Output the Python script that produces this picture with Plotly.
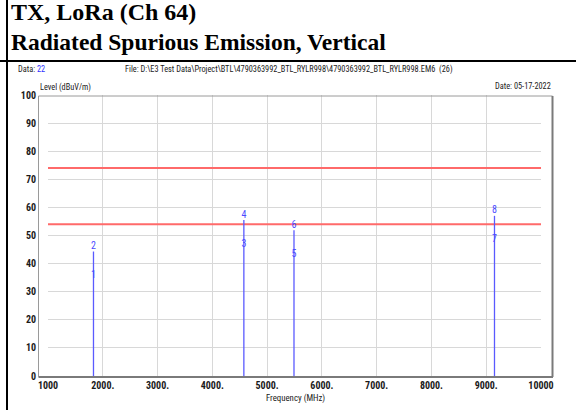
import plotly.graph_objects as go

# Measured emissions (harmonics of the LoRa carrier, channel 64)
freq_mhz = [1830.2, 4575.5, 5490.6, 9151.0]
avg_level = [34.0, 44.9, 41.4, 46.7]      # marker numbers 1, 3, 5, 7
peak_level = [44.3, 55.5, 51.9, 57.0]     # marker numbers 2, 4, 6, 8
avg_marks = ["1", "3", "5", "7"]
peak_marks = ["2", "4", "6", "8"]

# Limit lines (dBuV/m)
limit_peak = 74
limit_avg = 54
freq_span = [1000, 10000]

x_ticks = [1000, 2000, 3000, 4000, 5000, 6000, 7000, 8000, 9000, 10000]
x_tick_text = ["1000", "2000.", "3000.", "4000.", "5000.", "6000.", "7000.", "8000.", "9000.", "10000"]
y_ticks = [0, 10, 20, 30, 40, 50, 60, 70, 80, 90, 100]

W, H = 576, 410
ML, MR, MT, MB = 48, 35, 95, 34
NARROW = "Roboto Condensed, Liberation Sans, Arial, sans-serif"
SERIF = "Liberation Serif, Times New Roman, serif"


def px(x):
    return (x - ML) / (W - ML - MR)


def py(y):
    return (H - MB - y) / (H - MT - MB)


fig = go.Figure()

# limit lines
for lim in (limit_peak, limit_avg):
    fig.add_trace(go.Scatter(
        x=freq_span, y=[lim, lim], mode="lines",
        line=dict(color="#ff6a6a", width=2), hoverinfo="skip", showlegend=False))

# emission spikes from 0 up to the peak level
sx, sy = [], []
for f, p in zip(freq_mhz, peak_level):
    sx += [f, f, None]
    sy += [0, p, None]
fig.add_trace(go.Scatter(x=sx, y=sy, mode="lines",
                         line=dict(color="#5a5aff", width=1.3),
                         hoverinfo="skip", showlegend=False))

# marker numbers
fig.add_trace(go.Scatter(
    x=freq_mhz + freq_mhz, y=avg_level + peak_level,
    text=avg_marks + peak_marks, mode="text", textposition="top center",
    textfont=dict(family=NARROW, size=10, color="#4a4aff"),
    hoverinfo="skip", showlegend=False))

fig.update_xaxes(
    range=freq_span, tickvals=x_ticks, ticktext=x_tick_text,
    showgrid=True, gridcolor="#d8d8d8", gridwidth=1, zeroline=False,
    showline=False, ticks="", ticklabelstandoff=2,
    tickfont=dict(family=NARROW, size=10, color="#1a1a1a", weight="bold"))
fig.update_yaxes(
    range=[0, 100], tickvals=y_ticks,
    showgrid=True, gridcolor="#d8d8d8", gridwidth=1, zeroline=False,
    showline=False, ticks="", ticklabelstandoff=11,
    tickfont=dict(family=NARROW, size=10, color="#1a1a1a", weight="bold"))

shapes = [
    # page rules
    dict(type="line", xref="paper", yref="paper", x0=px(7), x1=px(7), y0=py(0), y1=py(410),
         line=dict(color="black", width=2)),
    dict(type="line", xref="paper", yref="paper", x0=px(0), x1=px(576), y0=py(61), y1=py(61),
         line=dict(color="black", width=2)),
    # chart frame
    dict(type="rect", xref="paper", yref="paper", x0=px(38.5), x1=px(552.5), y0=py(376.5), y1=py(96),
         line=dict(color="#9a9a9a", width=1)),
    dict(type="line", xref="paper", yref="paper", x0=px(552.5), x1=px(552.5), y0=py(377), y1=py(96),
         line=dict(color="#7a7a7a", width=2)),
    dict(type="line", xref="paper", yref="paper", x0=px(38.5), x1=px(553), y0=py(377), y1=py(377),
         line=dict(color="#7a7a7a", width=2)),
]


def note(text, x, y, xanchor="left", size=8.3, family=NARROW, color="#1a1a1a", weight="normal"):
    return dict(text=text, x=px(x), y=py(y), xref="paper", yref="paper",
                xanchor=xanchor, yanchor="middle", showarrow=False,
                font=dict(family=family, size=size, color=color, weight=weight))


annotations = [
    note("TX, LoRa (Ch 64)", 9, 12, size=24, family=SERIF, color="black", weight="bold"),
    note("Radiated Spurious Emission, Vertical", 9, 42, size=23.5, family=SERIF, color="black", weight="bold"),
    note("Data: <span style='color:#2f2fff'>22</span>", 16, 69),
    note("File: D:\\E3 Test Data\\Project\\BTL\\4790363992_BTL_RYLR998\\4790363992_BTL_RYLR998.EM6  (26)",
         123, 69),
    note("Date: 05-17-2022", 553, 86, xanchor="right"),
    note("Level (dBuV/m)", 38, 88),
    note("Frequency (MHz)", 295, 398, xanchor="center", size=8.8),
]

fig.update_layout(
    width=W, height=H, margin=dict(l=ML, r=MR, t=MT, b=MB),
    paper_bgcolor="white", plot_bgcolor="white",
    shapes=shapes, annotations=annotations, showlegend=False)

fig.write_html("out.html")
